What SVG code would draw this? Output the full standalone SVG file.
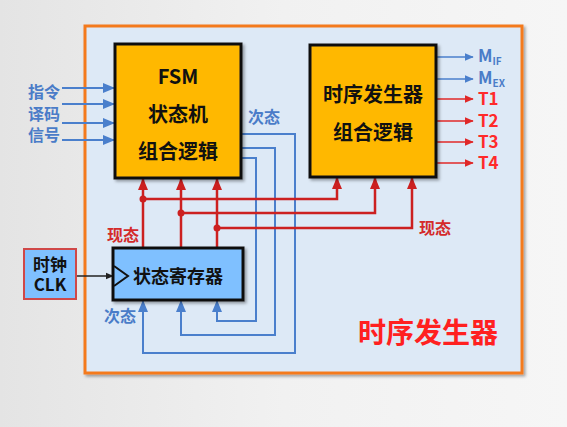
<svg xmlns="http://www.w3.org/2000/svg" width="567" height="427" viewBox="0 0 567 427">
<defs>
<linearGradient id="bg" x1="0" y1="0" x2="1" y2="0">
<stop offset="0" stop-color="#e4e4e4"/>
<stop offset="0.5" stop-color="#f1f1f1"/>
<stop offset="1" stop-color="#f6f6f6"/>
</linearGradient>
<filter id="sh" x="-10%" y="-10%" width="130%" height="130%">
<feDropShadow dx="2" dy="2" stdDeviation="1.5" flood-color="#000" flood-opacity="0.35"/>
</filter>
<marker id="ar" markerUnits="userSpaceOnUse" markerWidth="12" markerHeight="12" viewBox="0 0 12 12" refX="11" refY="6" orient="auto">
<path d="M0,1 L12,6 L0,11 Z" fill="#cc2020"/>
</marker>
<marker id="ab" markerUnits="userSpaceOnUse" markerWidth="12" markerHeight="12" viewBox="0 0 12 12" refX="11" refY="6" orient="auto">
<path d="M0,1 L12,6 L0,11 Z" fill="#4a7fcc"/>
</marker>
<marker id="abs" markerUnits="userSpaceOnUse" markerWidth="9" markerHeight="9" viewBox="0 0 12 12" refX="11" refY="6" orient="auto">
<path d="M0,1 L12,6 L0,11 Z" fill="#4a7fcc"/>
</marker>
<marker id="ars" markerUnits="userSpaceOnUse" markerWidth="9" markerHeight="9" viewBox="0 0 12 12" refX="11" refY="6" orient="auto">
<path d="M0,1 L12,6 L0,11 Z" fill="#e02828"/>
</marker>
<marker id="ak" markerUnits="userSpaceOnUse" markerWidth="8" markerHeight="8" viewBox="0 0 12 12" refX="11" refY="6" orient="auto">
<path d="M0,1 L12,6 L0,11 Z" fill="#222"/>
</marker>
</defs>
<style>
text{font-family:"Noto Sans CJK SC","Noto Sans",sans-serif;font-weight:bold}
.box{stroke:#111;stroke-width:3}
.yel{fill:#ffb800}
.lb{fill:#7fc0ff}
.bt{font-size:20px;fill:#111;text-anchor:middle}
.blue{fill:#4a7cc8}
.red{fill:#d42a2a}
.rw{fill:none;stroke:#cc2020;stroke-width:2.5}
.bw{fill:none;stroke:#4a7fcc;stroke-width:2}
.out{font-size:17px}
</style>
<rect x="0" y="0" width="567" height="427" fill="url(#bg)"/>
<g id="frame">
<rect x="85" y="26" width="437" height="347" fill="#dde9f6" stroke="#f47a1e" stroke-width="3" filter="url(#sh)"/>
<text x="428" y="343" font-size="28" fill="#ff2020" text-anchor="middle">时序发生器</text>
</g>
<g id="connectors">
<line class="bw" x1="62" y1="88" x2="114" y2="88" marker-end="url(#ab)"/>
<line class="bw" x1="62" y1="104" x2="114" y2="104" marker-end="url(#ab)"/>
<line class="bw" x1="62" y1="123" x2="114" y2="123" marker-end="url(#ab)"/>
<line class="bw" x1="62" y1="140" x2="114" y2="140" marker-end="url(#ab)"/>
<line x1="437" y1="57" x2="473" y2="57" stroke="#4a7fcc" stroke-width="1.5" marker-end="url(#abs)"/>
<line x1="437" y1="79" x2="473" y2="79" stroke="#4a7fcc" stroke-width="1.5" marker-end="url(#abs)"/>
<line x1="437" y1="99" x2="473" y2="99" stroke="#e02828" stroke-width="1.5" marker-end="url(#ars)"/>
<line x1="437" y1="121" x2="473" y2="121" stroke="#e02828" stroke-width="1.5" marker-end="url(#ars)"/>
<line x1="437" y1="142" x2="473" y2="142" stroke="#e02828" stroke-width="1.5" marker-end="url(#ars)"/>
<line x1="437" y1="163" x2="473" y2="163" stroke="#e02828" stroke-width="1.5" marker-end="url(#ars)"/>
<path class="bw" d="M241,134 H295 V353 H143 V301" marker-end="url(#ab)"/>
<path class="bw" d="M241,148 H275 V335 H181 V301" marker-end="url(#ab)"/>
<path class="bw" d="M241,158 H256 V321 H217 V301" marker-end="url(#ab)"/>
<line class="rw" x1="143" y1="248" x2="143" y2="179" marker-end="url(#ar)"/>
<line class="rw" x1="181" y1="248" x2="181" y2="179" marker-end="url(#ar)"/>
<line class="rw" x1="217" y1="248" x2="217" y2="179" marker-end="url(#ar)"/>
<path class="rw" d="M143,199 H337 V178" marker-end="url(#ar)"/>
<path class="rw" d="M181,213 H375 V178" marker-end="url(#ar)"/>
<path class="rw" d="M217,228 H412 V178" marker-end="url(#ar)"/>
<circle cx="143" cy="199" r="3.5" fill="#cc2020"/>
<circle cx="181" cy="213" r="3.5" fill="#cc2020"/>
<circle cx="217" cy="228" r="3.5" fill="#cc2020"/>
<line x1="76" y1="276" x2="113" y2="276" stroke="#222" stroke-width="1.5" marker-end="url(#ak)"/>
<text x="44" y="98" font-size="16" class="blue" text-anchor="middle">指令</text>
<text x="44" y="120" font-size="16" class="blue" text-anchor="middle">译码</text>
<text x="44" y="141" font-size="16" class="blue" text-anchor="middle">信号</text>
<text x="264" y="123" font-size="16" class="blue" text-anchor="middle">次态</text>
<text x="123" y="241" font-size="16" class="red" text-anchor="middle">现态</text>
<text x="435" y="234" font-size="16" class="red" text-anchor="middle">现态</text>
<text x="120" y="322" font-size="16" class="blue" text-anchor="middle">次态</text>
<text x="478" y="62" class="out blue">M<tspan font-size="10" dy="3">IF</tspan></text>
<text x="478" y="84" class="out blue">M<tspan font-size="10" dy="3">EX</tspan></text>
<text x="478" y="105" class="out" fill="#ff2a2a">T1</text>
<text x="478" y="127" class="out" fill="#ff2a2a">T2</text>
<text x="478" y="148" class="out" fill="#ff2a2a">T3</text>
<text x="478" y="169" class="out" fill="#ff2a2a">T4</text>
</g>
<g id="fsm">
<rect class="box yel" x="115" y="44" width="126" height="134" filter="url(#sh)"/>
<text class="bt" x="178" y="84">FSM</text>
<text class="bt" x="178" y="122">状态机</text>
<text class="bt" x="178" y="159">组合逻辑</text>
</g>
<g id="timing">
<rect class="box yel" x="310" y="45" width="126" height="132" filter="url(#sh)"/>
<text class="bt" x="373" y="102">时序发生器</text>
<text class="bt" x="373" y="140">组合逻辑</text>
</g>
<g id="register">
<rect class="box lb" x="113" y="248" width="130" height="52" filter="url(#sh)"/>
<path d="M114,266 L128,276 L114,286" fill="none" stroke="#111" stroke-width="2"/>
<text x="178" y="283" font-size="18" fill="#111" text-anchor="middle">状态寄存器</text>
</g>
<g id="clock">
<rect x="24" y="249" width="52" height="50" fill="#7fc0ff" stroke="#d04848" stroke-width="2"/>
<text x="50" y="271" font-size="17" fill="#111" text-anchor="middle">时钟</text>
<text x="50" y="291" font-size="17" fill="#111" text-anchor="middle">CLK</text>
</g>
</svg>
